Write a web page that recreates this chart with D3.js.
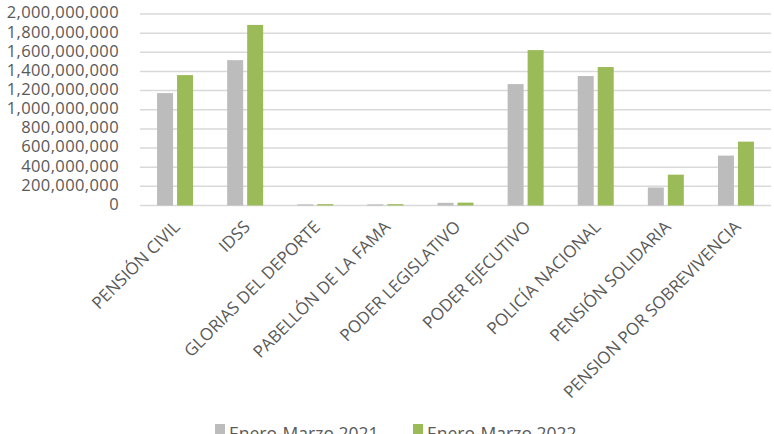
<!DOCTYPE html>
<html>
<head>
<meta charset="utf-8">
<script src="https://cdn.jsdelivr.net/npm/d3@7"></script>
<style>
  body { margin: 0; background: #fff; }
  text { font-family: "Open Sans", sans-serif; fill: #595959; }
</style>
</head>
<body>
<script>
var categories = ["PENSIÓN CIVIL", "IDSS", "GLORIAS DEL DEPORTE", "PABELLÓN DE LA FAMA",
  "PODER LEGISLATIVO", "PODER EJECUTIVO", "POLICÍA NACIONAL", "PENSIÓN SOLIDARIA",
  "PENSION POR SOBREVIVENCIA"];
var seriesNames = ["Enero-Marzo 2021", "Enero-Marzo 2022"];
var values2021 = [1174000000, 1518000000, 12000000, 12000000, 28000000, 1268000000, 1352000000, 188000000, 521000000];
var values2022 = [1362000000, 1886000000, 14000000, 14000000, 30000000, 1623000000, 1446000000, 322000000, 667000000];
var yTicks = [0, 200000000, 400000000, 600000000, 800000000, 1000000000, 1200000000, 1400000000, 1600000000, 1800000000, 2000000000];
var colors = ["#bcbcbc", "#9bbb59"];

var W = 774, H = 434;
var plotLeft = 140, plotRight = 771, plotTop = 14, plotBottom = 205.5;

var svg = d3.select("body").append("svg").attr("width", W).attr("height", H);

var x = d3.scaleBand().domain(categories).range([plotLeft, plotRight]);
var y = d3.scaleLinear().domain([0, 2000000000]).range([plotBottom, plotTop]);

// gridlines
svg.append("g").selectAll("line")
  .data(yTicks)
  .enter().append("line")
  .attr("x1", plotLeft).attr("x2", plotRight)
  .attr("y1", function(d){ return y(d); })
  .attr("y2", function(d){ return y(d); })
  .attr("stroke", "#d9d9d9")
  .attr("stroke-width", 1.5);

// y labels
var fmt = d3.format(",");
svg.append("g").selectAll("text")
  .data(yTicks)
  .enter().append("text")
  .attr("x", 119)
  .attr("y", function(d){ return y(d); })
  .attr("text-anchor", "end")
  .attr("dominant-baseline", "middle")
  .attr("font-size", 16.5)
  .attr("letter-spacing", 0.4)
  .text(function(d){ return fmt(d); });

// bars
var barW = 16, gap = 4;
var series = [values2021, values2022];
series.forEach(function(vals, s) {
  svg.append("g").selectAll("rect")
    .data(vals)
    .enter().append("rect")
    .attr("x", function(d, i){ return x(categories[i]) + x.bandwidth() / 2 - barW - gap / 2 + s * (barW + gap); })
    .attr("y", function(d){ return y(d); })
    .attr("width", barW)
    .attr("height", function(d){ return plotBottom - y(d); })
    .attr("fill", colors[s]);
});

// category labels
svg.append("g").selectAll("text")
  .data(categories)
  .enter().append("text")
  .attr("transform", function(d){ return "translate(" + (x(d) + x.bandwidth() / 2 + 6) + "," + 228 + ") rotate(-45)"; })
  .attr("text-anchor", "end")
  .attr("font-size", 17)
  .text(function(d){ return d; });

// legend
var legX = [215, 413];
seriesNames.forEach(function(name, s) {
  svg.append("rect")
    .attr("x", legX[s]).attr("y", 424)
    .attr("width", 10).attr("height", 10)
    .attr("fill", colors[s]);
  svg.append("text")
    .attr("x", legX[s] + 14).attr("y", 440)
    .attr("font-size", 17.5)
    .text(name);
});
</script>
</body>
</html>
